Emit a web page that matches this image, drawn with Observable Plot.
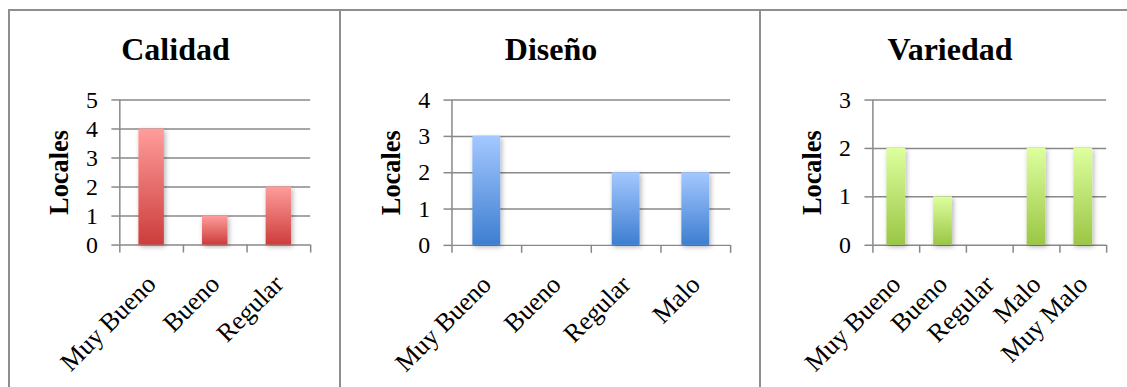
<!DOCTYPE html>
<html>
<head>
<meta charset="utf-8">
<script src="https://cdn.jsdelivr.net/npm/d3@7"></script>
<script src="https://cdn.jsdelivr.net/npm/@observablehq/plot@0.6"></script>
<style>
  html, body { margin: 0; padding: 0; background: #fff; }
  #board { position: relative; width: 1127px; height: 387px; overflow: hidden; background: #fff; }
  .panel { position: absolute; top: 9px; height: 400px; box-sizing: border-box;
           border-top: 2px solid #8e8e8e; border-left: 2px solid #8e8e8e; }
  .title { position: absolute; left: 0; right: 0; top: 20px; text-align: center;
           font-family: "Liberation Serif", serif; font-weight: bold; font-size: 32px;
           line-height: 36px; color: #000; }
  .chart { position: absolute; top: -1px; left: -2px; }
  .chart g[aria-label="rect"] rect { filter: url(#barShadow); }
</style>
</head>
<body>
<svg width="0" height="0" style="position:absolute">
  <defs>
    <linearGradient id="gradRed" x1="0" y1="0" x2="0" y2="1">
      <stop offset="0" stop-color="#ff9d9b"/>
      <stop offset="1" stop-color="#cc3d3b"/>
    </linearGradient>
    <linearGradient id="gradBlue" x1="0" y1="0" x2="0" y2="1">
      <stop offset="0" stop-color="#a4c8ff"/>
      <stop offset="1" stop-color="#3d7ed0"/>
    </linearGradient>
    <linearGradient id="gradGreen" x1="0" y1="0" x2="0" y2="1">
      <stop offset="0" stop-color="#ddff9e"/>
      <stop offset="1" stop-color="#9bc645"/>
    </linearGradient>
    <filter id="barShadow" x="-40%" y="-10%" width="180%" height="125%">
      <feDropShadow dx="1.5" dy="2" stdDeviation="2.5" flood-color="#000" flood-opacity="0.3"/>
    </filter>
  </defs>
</svg>
<div id="board"></div>
<script>
// Survey results: number of shops ("Locales") per rating
const categoriesCalidad = ["Muy Bueno", "Bueno", "Regular"];
const valuesCalidad = [4, 1, 2];
const ticksCalidad = [0, 1, 2, 3, 4, 5];

const categoriesDiseno = ["Muy Bueno", "Bueno", "Regular", "Malo"];
const valuesDiseno = [3, 0, 2, 2];
const ticksDiseno = [0, 1, 2, 3, 4];

const categoriesVariedad = ["Muy Bueno", "Bueno", "Regular", "Malo", "Muy Malo"];
const valuesVariedad = [2, 1, 0, 2, 2];
const ticksVariedad = [0, 1, 2, 3];

const gridColor = "#888888";

function panelChart({categories, values, ticks, gradient, width, marginLeft, marginRight}) {
  const n = categories.length;
  const data = categories.map((c, i) => ({i, category: c, value: values[i]}));
  return Plot.plot({
    width,
    height: 377,
    marginTop: 90,
    marginBottom: 141,
    marginLeft,
    marginRight,
    x: {type: "linear", domain: [0, n], axis: null},
    y: {domain: [0, d3.max(ticks)], axis: null},
    style: {fontFamily: "Liberation Serif, serif", color: "#000", background: "transparent", overflow: "visible"},
    marks: [
      Plot.ruleY(ticks, {stroke: gridColor, strokeWidth: 1.5}),
      Plot.axisY({ticks, tickSize: 8, tickPadding: 14, fontSize: 24, tickFormat: d3.format("d"),
                  stroke: gridColor, strokeWidth: 1.5, label: null}),
      Plot.ruleX([0], {stroke: gridColor, strokeWidth: 1.5}),
      Plot.axisX({ticks: d3.range(n + 1), tickSize: 8, tickFormat: () => "", stroke: gridColor, strokeWidth: 1.5, label: null}),
      Plot.rectY(data, {x1: d => d.i + 0.3, x2: d => d.i + 0.7, y1: 0, y2: "value", fill: `url(#${gradient})`}),
      Plot.axisX({
        ticks: d3.range(n).map(i => i + 0.5),
        tickSize: 0,
        tickPadding: 35,
        tickRotate: -45,
        fontSize: 26,
        tickFormat: t => categories[Math.floor(t)],
        label: null
      }),
      Plot.text(["Locales"], {frameAnchor: "left", textAnchor: "middle", dx: -61, rotate: -90,
                              fontWeight: "bold", fontSize: 26.5})
    ]
  });
}

const panels = [
  {title: "Calidad", left: 8, width: 333, categories: categoriesCalidad, values: valuesCalidad, ticks: ticksCalidad,
   gradient: "gradRed", marginLeft: 112, marginRight: 29},
  {title: "Diseño", left: 339, width: 422, categories: categoriesDiseno, values: valuesDiseno, ticks: ticksDiseno,
   gradient: "gradBlue", marginLeft: 113, marginRight: 29},
  {title: "Variedad", left: 759, width: 380, categories: categoriesVariedad, values: valuesVariedad, ticks: ticksVariedad,
   gradient: "gradGreen", marginLeft: 114, marginRight: 31}
];

const board = document.getElementById("board");
for (const p of panels) {
  const div = document.createElement("div");
  div.className = "panel";
  div.style.left = p.left + "px";
  div.style.width = p.width + "px";
  const title = document.createElement("div");
  title.className = "title";
  title.textContent = p.title;
  div.appendChild(title);
  const chart = panelChart(p);
  chart.classList.add("chart");
  div.appendChild(chart);
  board.appendChild(div);
}
</script>
</body>
</html>
